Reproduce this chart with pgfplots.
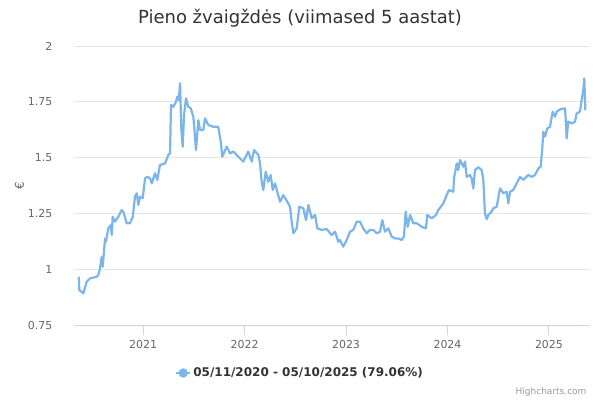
\documentclass[border=0pt]{standalone}
\usepackage{pgfplots}
\pgfplotsset{compat=1.18}
\usepackage{fontspec}
\setmainfont{DejaVu Sans}
\definecolor{hcblue}{HTML}{7CB5EC}
\definecolor{hctext}{HTML}{333333}
\definecolor{hclabel}{HTML}{666666}
\definecolor{hcgrid}{HTML}{E6E6E6}
\definecolor{hcaxis}{HTML}{CCD6EB}
\definecolor{hccredit}{HTML}{999999}
\begin{document}
\begin{tikzpicture}
% page frame, 1pt per pixel of the reference
\path (0,0) rectangle (600pt,400pt);
\node[text=hctext, font=\fontsize{18}{20}\selectfont] at (300pt,382pt) {Pieno žvaigždės (viimased 5 aastat)};
\node[text=hccredit, font=\fontsize{9}{10}\selectfont, anchor=east] at (590pt,8pt) {Highcharts.com};
\begin{axis}[
    at={(74pt,75pt)}, anchor=south west,
    scale only axis,
    width=516pt, height=279pt,
    xmin=2020.32, xmax=2025.404,
    ymin=0.75, ymax=2,
    xtick={2021,2022,2023,2024,2025},
    xticklabels={2021,2022,2023,2024,2025},
    ytick={0.75,1,1.25,1.5,1.75,2},
    yticklabels={0.75,1,1.25,1.5,1.75,2},
    ymajorgrids=true,
    grid style={hcgrid, line width=1pt},
    axis x line*=bottom,
    axis y line*=left,
    x axis line style={hcaxis, line width=1pt, -},
    y axis line style={draw=none},
    xtick style={hcaxis, line width=1pt},
    tick align=outside,
    major tick length=10pt,
    ytick style={draw=none},
    tick label style={text=hclabel, font=\fontsize{11}{12}\selectfont},
    yticklabel style={anchor=east, xshift=-8pt},
    xticklabel style={yshift=-2pt},
    ylabel={€},
    ylabel style={text=hclabel, font=\fontsize{12}{13}\selectfont, at={(-0.09,0.5)}},
    /pgf/number format/assume math mode=true,
    legend style={at={(0.438,-0.172)}, anchor=center, draw=none, fill=none,
        font=\fontsize{12}{13}\selectfont\bfseries, text=hctext},
    legend image code/.code={
        \draw[hcblue, line width=2pt] (0cm,0cm) -- (0.5cm,0cm);
        \fill[hcblue] (0.25cm,0cm) circle (3.5pt);
    },
]
\addplot[hcblue, line width=2.2pt, line join=round] coordinates {
(2020.367,0.966)(2020.372,0.907)(2020.412,0.892)(2020.445,0.944)(2020.478,0.959)
(2020.544,0.966)(2020.560,0.974)(2020.576,1.004)(2020.593,1.056)(2020.603,1.011)
(2020.626,1.138)(2020.635,1.123)(2020.658,1.183)(2020.682,1.198)(2020.692,1.153)
(2020.701,1.235)(2020.724,1.213)(2020.757,1.235)(2020.790,1.265)(2020.806,1.258)
(2020.839,1.206)(2020.872,1.206)(2020.899,1.235)(2020.921,1.325)(2020.938,1.340)
(2020.954,1.288)(2020.970,1.325)(2020.997,1.318)(2021.020,1.407)(2021.042,1.414)
(2021.069,1.407)(2021.086,1.385)(2021.118,1.430)(2021.141,1.400)(2021.167,1.467)
(2021.217,1.474)(2021.249,1.512)(2021.266,1.519)(2021.276,1.736)(2021.299,1.728)
(2021.325,1.750)(2021.338,1.773)(2021.352,1.758)(2021.365,1.833)(2021.377,1.631)
(2021.391,1.549)(2021.404,1.691)(2021.424,1.766)(2021.446,1.728)(2021.470,1.721)
(2021.496,1.683)(2021.522,1.534)(2021.545,1.668)(2021.562,1.624)(2021.594,1.624)
(2021.611,1.676)(2021.643,1.646)(2021.693,1.638)(2021.742,1.638)(2021.752,1.609)
(2021.766,1.571)(2021.781,1.504)(2021.825,1.549)(2021.857,1.519)(2021.890,1.527)
(2021.939,1.504)(2021.988,1.482)(2022.037,1.527)(2022.071,1.482)(2022.094,1.534)
(2022.136,1.512)(2022.153,1.474)(2022.169,1.392)(2022.185,1.355)(2022.209,1.437)
(2022.234,1.392)(2022.258,1.422)(2022.278,1.355)(2022.300,1.385)(2022.323,1.347)
(2022.350,1.302)(2022.382,1.332)(2022.422,1.302)(2022.448,1.280)(2022.465,1.213)
(2022.481,1.161)(2022.514,1.183)(2022.540,1.280)(2022.579,1.273)(2022.606,1.220)
(2022.629,1.288)(2022.662,1.228)(2022.695,1.243)(2022.717,1.183)(2022.761,1.176)
(2022.810,1.180)(2022.859,1.153)(2022.892,1.168)(2022.924,1.123)(2022.941,1.131)
(2022.973,1.101)(2023.007,1.131)(2023.039,1.168)(2023.072,1.176)(2023.105,1.213)
(2023.138,1.213)(2023.170,1.183)(2023.204,1.161)(2023.236,1.176)(2023.269,1.176)
(2023.302,1.161)(2023.335,1.168)(2023.358,1.220)(2023.384,1.168)(2023.417,1.183)
(2023.450,1.146)(2023.483,1.138)(2023.515,1.138)(2023.549,1.131)(2023.571,1.146)
(2023.588,1.258)(2023.608,1.190)(2023.631,1.243)(2023.663,1.206)(2023.697,1.206)
(2023.746,1.190)(2023.788,1.183)(2023.801,1.243)(2023.844,1.228)(2023.887,1.243)
(2023.909,1.265)(2023.959,1.295)(2023.992,1.332)(2024.015,1.355)(2024.057,1.347)
(2024.064,1.407)(2024.091,1.474)(2024.106,1.444)(2024.123,1.489)(2024.156,1.459)
(2024.172,1.482)(2024.189,1.414)(2024.222,1.422)(2024.238,1.407)(2024.254,1.362)
(2024.271,1.444)(2024.303,1.457)(2024.337,1.444)(2024.353,1.400)(2024.369,1.250)
(2024.386,1.224)(2024.402,1.243)(2024.435,1.258)(2024.451,1.273)(2024.485,1.280)
(2024.517,1.362)(2024.550,1.340)(2024.583,1.347)(2024.599,1.295)(2024.616,1.347)
(2024.648,1.355)(2024.682,1.385)(2024.714,1.414)(2024.747,1.400)(2024.796,1.422)
(2024.830,1.414)(2024.862,1.422)(2024.895,1.452)(2024.918,1.459)(2024.934,1.541)
(2024.944,1.616)(2024.961,1.594)(2024.983,1.631)(2025.010,1.638)(2025.036,1.706)
(2025.059,1.683)(2025.076,1.706)(2025.108,1.716)(2025.158,1.721)(2025.167,1.653)
(2025.174,1.586)(2025.190,1.661)(2025.224,1.653)(2025.256,1.661)(2025.273,1.698)
(2025.305,1.706)(2025.322,1.758)(2025.338,1.803)(2025.348,1.855)(2025.358,1.713)
};
\addlegendentry{05/11/2020 - 05/10/2025 (79.06\%)}
\end{axis}
\end{tikzpicture}
\end{document}
